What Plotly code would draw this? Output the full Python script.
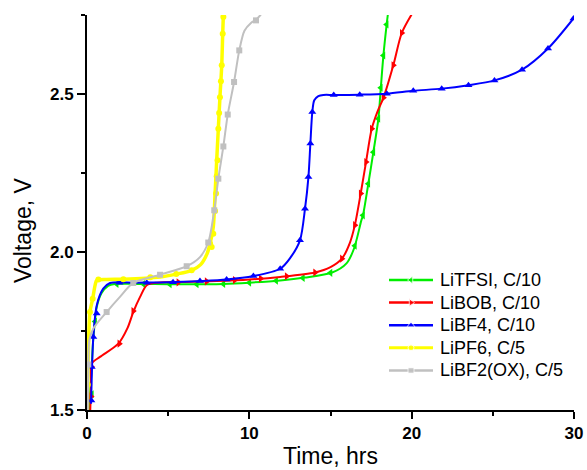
import plotly.graph_objects as go

# ---- data (time in hrs, voltage in V) ----
series_names = ["LiTFSI, C/10", "LiBOB, C/10", "LiBF4, C/10", "LiPF6, C/5", "LiBF2(OX), C/5"]
series_colors = ["#00ee00", "#ff0000", "#0000ff", "#ffff00", "#c0c0c0"]
series_symbols = ["triangle-left", "triangle-right", "triangle-up", "circle", "square"]

# line traces (smooth curves)
tfsi_t = [0.12, 0.25, 0.38, 0.6, 0.9, 1.3, 1.7, 3.0, 5.0, 8.4, 10.0, 11.9, 13.4, 15.1, 16.0, 16.45, 16.9, 17.0, 17.33, 17.64, 17.95, 18.1, 18.26, 18.46, 18.53]
tfsi_v = [1.50, 1.60, 1.72, 1.826, 1.87, 1.893, 1.899, 1.899, 1.898, 1.899, 1.903, 1.910, 1.919, 1.935, 1.965, 2.011, 2.10, 2.116, 2.216, 2.316, 2.422, 2.52, 2.622, 2.72, 2.75]

bob_t = [0.2, 0.25, 0.29, 0.8, 1.93, 2.5, 2.85, 3.27, 3.68, 4.3, 6.0, 8.0, 10.0, 11.9, 14.05, 15.0, 15.7, 16.2, 16.5, 16.86, 17.19, 17.54, 17.9, 18.26, 18.87, 19.39, 20.0]
bob_v = [1.50, 1.58, 1.647, 1.668, 1.710, 1.76, 1.81, 1.858, 1.895, 1.903, 1.905, 1.908, 1.913, 1.921, 1.935, 1.952, 1.979, 2.03, 2.085, 2.185, 2.285, 2.39, 2.445, 2.488, 2.591, 2.693, 2.752]

bf4_t = [0.25, 0.29, 0.39, 0.6, 1.0, 1.42, 3.0, 5.0, 7.0, 8.6, 10.25, 11.9, 12.5, 13.12, 13.43, 13.64, 13.76, 13.88, 14.0, 14.25, 14.56, 15.2, 16.8, 18.47, 20.1, 21.85, 23.5, 25.1, 26.8, 28.4, 29.97]
bf4_v = [1.52, 1.60, 1.731, 1.831, 1.884, 1.902, 1.903, 1.904, 1.908, 1.913, 1.924, 1.947, 1.98, 2.037, 2.137, 2.237, 2.343, 2.443, 2.48, 2.493, 2.497, 2.497, 2.498, 2.501, 2.51, 2.517, 2.528, 2.543, 2.577, 2.644, 2.739]

pf6_t = [0.02, 0.05, 0.08, 0.18, 0.35, 0.5, 0.6, 1.2, 2.24, 4.5, 5.5, 6.45, 7.0, 7.4, 7.58, 7.78, 7.89, 7.99, 8.09, 8.19, 8.3, 8.36, 8.4]
pf6_v = [1.50, 1.58, 1.678, 1.81, 1.852, 1.895, 1.91, 1.913, 1.914, 1.921, 1.93, 1.942, 1.96, 1.995, 2.027, 2.08, 2.185, 2.29, 2.39, 2.49, 2.591, 2.691, 2.75]

ox_t = [0.05, 0.08, 0.14, 0.39, 1.21, 2.03, 2.85, 4.5, 6.14, 6.96, 7.47, 7.84, 8.09, 8.4, 8.67, 9.06, 9.38, 9.7, 10.1, 10.41, 10.72]
ox_v = [1.50, 1.62, 1.72, 1.758, 1.81, 1.858, 1.902, 1.928, 1.955, 1.984, 2.03, 2.132, 2.232, 2.334, 2.435, 2.538, 2.638, 2.70, 2.725, 2.735, 2.752]

# marker positions
tfsi_mt = [0.3, 0.5, 1.83, 3.47, 5.1, 6.76, 8.4, 10.0, 11.65, 13.3, 15.0, 16.5, 17.0, 17.33, 17.64, 17.95, 18.1, 18.26, 18.46]
tfsi_mv = [1.55, 1.78, 1.899, 1.899, 1.898, 1.898, 1.899, 1.903, 1.909, 1.918, 1.934, 2.02, 2.116, 2.216, 2.316, 2.422, 2.52, 2.622, 2.72]

bob_mt = [0.25, 0.29, 1.99, 2.85, 5.63, 7.37, 9.1, 10.7, 12.3, 14.05, 15.7, 16.5, 16.86, 17.19, 17.54, 18.26, 18.87, 19.39]
bob_mv = [1.543, 1.636, 1.71, 1.813, 1.904, 1.907, 1.911, 1.916, 1.923, 1.935, 1.979, 2.085, 2.185, 2.285, 2.39, 2.488, 2.591, 2.693]

bf4_mt = [0.27, 0.29, 0.39, 0.6, 2.0, 3.68, 5.3, 6.96, 8.6, 10.25, 11.9, 13.12, 13.43, 13.64, 13.76, 13.88, 15.2, 16.8, 18.47, 20.1, 21.85, 23.5, 25.1, 26.8, 28.4, 29.97]
bf4_mv = [1.53, 1.636, 1.731, 1.805, 1.903, 1.903, 1.904, 1.908, 1.913, 1.924, 1.947, 2.037, 2.137, 2.237, 2.343, 2.443, 2.497, 2.498, 2.501, 2.51, 2.517, 2.528, 2.543, 2.577, 2.644, 2.739]

pf6_mt = [0.05, 0.18, 0.35, 0.7, 2.24, 3.9, 5.5, 6.45, 7.58, 7.68, 7.78, 7.89, 7.95, 7.99, 8.04, 8.09, 8.14, 8.19, 8.25, 8.3, 8.36, 8.4]
pf6_mv = [1.58, 1.81, 1.852, 1.913, 1.914, 1.92, 1.93, 1.942, 2.027, 2.016, 2.058, 2.13, 2.185, 2.24, 2.29, 2.39, 2.44, 2.49, 2.54, 2.591, 2.691, 2.744]

ox_mt = [0.08, 1.21, 2.85, 4.5, 6.14, 7.47, 7.84, 8.09, 8.4, 8.67, 9.06, 9.38, 10.41]
ox_mv = [1.644, 1.81, 1.902, 1.928, 1.955, 2.03, 2.132, 2.232, 2.334, 2.435, 2.538, 2.638, 2.733]

line_t = [tfsi_t, bob_t, bf4_t, pf6_t, ox_t]
line_v = [tfsi_v, bob_v, bf4_v, pf6_v, ox_v]
mark_t = [tfsi_mt, bob_mt, bf4_mt, pf6_mt, ox_mt]
mark_v = [tfsi_mv, bob_mv, bf4_mv, pf6_mv, ox_mv]
line_widths = [2, 2, 2, 3.5, 2]
marker_sizes = [7, 7, 7, 6, 6]

FONT = "Arial, Liberation Sans, sans-serif"

# figure geometry (pixels)
W, H = 587, 470
ML, MR, MT, MB = 87, 13, 15, 60
PW, PH = W - ML - MR, H - MT - MB

def px_to_paper_x(px):
    return (px - ML) / PW

def px_to_paper_y(py):
    return (H - MB - py) / PH

fig = go.Figure()
for i, name in enumerate(series_names):
    fig.add_trace(go.Scatter(
        x=line_t[i], y=line_v[i], mode="lines", showlegend=False,
        line=dict(color=series_colors[i], width=line_widths[i], shape="spline", smoothing=0.8),
        hoverinfo="skip"))
    fig.add_trace(go.Scatter(
        x=mark_t[i], y=mark_v[i], mode="markers", showlegend=False, name=name,
        marker=dict(color=series_colors[i], symbol=series_symbols[i], size=marker_sizes[i])))

# ---- hand-built legend (line sample + marker + label) ----
leg_x0, leg_x1, leg_text_x = 389, 433, 438
leg_row0, leg_step = 280, 22.6
shapes, annotations = [], []
leg_mx, leg_my = [], []
for i, name in enumerate(series_names):
    ry = leg_row0 + i * leg_step
    yp = px_to_paper_y(ry)
    shapes.append(dict(type="line", xref="paper", yref="paper",
                       x0=px_to_paper_x(leg_x0), x1=px_to_paper_x(leg_x1), y0=yp, y1=yp,
                       line=dict(color=series_colors[i], width=3 if i == 3 else 2.5), layer="below"))
    annotations.append(dict(text=name, xref="paper", yref="paper",
                            x=px_to_paper_x(leg_text_x), y=yp, xanchor="left", yanchor="middle",
                            showarrow=False, font=dict(family=FONT, size=18, color="black")))
    leg_mx.append(px_to_paper_x((leg_x0 + leg_x1) / 2))
    leg_my.append(yp)

fig.add_trace(go.Scatter(
    x=leg_mx, y=leg_my, xaxis="x2", yaxis="y2", mode="markers", showlegend=False,
    hoverinfo="skip", cliponaxis=False,
    marker=dict(color=series_colors, symbol=series_symbols, size=marker_sizes)))

axis_common = dict(
    showline=True, linecolor="black", linewidth=2, mirror=False,
    showgrid=False, zeroline=False,
    ticks="outside", tickcolor="black", tickwidth=2,
    tickfont=dict(family=FONT, size=17, color="black", weight="bold"),
)

fig.update_xaxes(range=[0, 30], tickvals=[0, 10, 20, 30], ticklen=7,
                 minor=dict(ticks="outside", ticklen=4, dtick=5, tick0=0, tickcolor="black", tickwidth=2),
                 **axis_common)
fig.update_yaxes(range=[1.5, 2.75], tickvals=[1.5, 2.0, 2.5], ticktext=["1.5", "2.0", "2.5"], ticklen=8,
                 minor=dict(ticks="outside", ticklen=4, dtick=0.25, tick0=1.5, tickcolor="black", tickwidth=2),
                 **axis_common)

annotations += [
    dict(text="Time, hrs", xref="paper", yref="paper", x=0.5, y=px_to_paper_y(470),
         xanchor="center", yanchor="bottom", showarrow=False, borderpad=0,
         font=dict(family=FONT, size=23, color="black")),
    dict(text="Voltage, V", xref="paper", yref="paper", x=px_to_paper_x(23), y=px_to_paper_y(230),
         xanchor="center", yanchor="middle", showarrow=False, textangle=-90,
         font=dict(family=FONT, size=23, color="black")),
]

fig.update_layout(
    width=W, height=H,
    margin=dict(l=ML, r=MR, t=MT, b=MB, autoexpand=False),
    paper_bgcolor="white", plot_bgcolor="white",
    font=dict(family=FONT, color="black"),
    showlegend=False,
    xaxis2=dict(overlaying="x", range=[0, 1], visible=False, fixedrange=True),
    yaxis2=dict(overlaying="y", range=[0, 1], visible=False, fixedrange=True),
    shapes=shapes,
    annotations=annotations,
)

fig.write_html("out.html", config={"displayModeBar": False},
               post_script="document.body.style.margin='0';document.body.style.padding='0';")
